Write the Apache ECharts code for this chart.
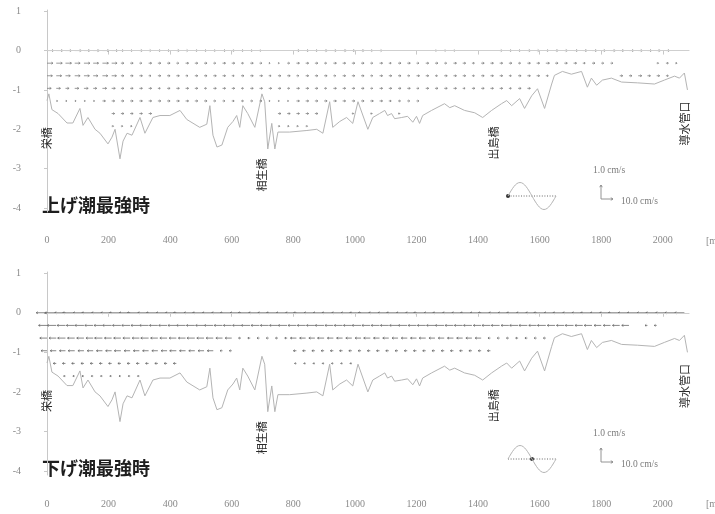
<!DOCTYPE html>
<html>
<head>
<meta charset="utf-8">
<script src="https://cdn.jsdelivr.net/npm/echarts@6/dist/echarts.min.js"></script>
<style>
  html, body { margin: 0; padding: 0; background: #fff; }
  #c { width: 715px; height: 514px; }
</style>
</head>
<body>
<div id="c"></div>
<script>
// River-bed profile along the channel (distance in m, elevation in m)
const profileX = [0,6,16,36,65,84,107,117,133,156,172,198,211,221,237,247,260,276,302,318,344,367,399,432,454,496,519,529,539,552,568,587,604,616,626,636,652,675,698,707,717,730,740,750,788,844,876,896,918,928,951,973,993,1010,1042,1058,1080,1097,1106,1119,1129,1152,1171,1188,1200,1210,1220,1249,1291,1308,1324,1356,1389,1415,1444,1476,1493,1509,1535,1551,1574,1593,1616,1639,1648,1674,1703,1736,1755,1768,1785,1804,1833,1866,1918,1973,2005,2038,2054,2070,2080];
const profileZ = [-1.27,-1.1,-1.5,-1.6,-1.84,-1.84,-1.47,-1.9,-1.7,-2.0,-2.1,-2.37,-2.2,-2.0,-2.75,-2.3,-2.1,-2.15,-1.7,-2.1,-1.7,-1.65,-1.65,-1.52,-1.75,-1.95,-1.87,-1.4,-2.15,-2.45,-2.4,-1.95,-1.8,-1.65,-1.95,-1.4,-1.6,-1.95,-1.1,-1.3,-2.5,-1.85,-2.5,-2.07,-2.07,-2.03,-2.0,-2.1,-1.3,-1.95,-1.8,-1.7,-1.85,-1.3,-2.0,-1.7,-1.6,-1.52,-1.65,-1.6,-1.73,-1.7,-1.67,-1.82,-1.67,-1.85,-1.65,-1.52,-1.35,-1.45,-1.4,-1.52,-1.58,-1.7,-1.52,-1.35,-1.27,-1.4,-1.22,-1.47,-1.15,-0.97,-1.47,-0.85,-0.63,-0.53,-0.6,-0.53,-0.93,-0.7,-0.88,-0.75,-0.7,-0.8,-0.82,-0.85,-0.75,-0.65,-0.7,-0.57,-1.0];
const surfaceZ = 0;

// Velocity grid: stations (m) and depths (m)
const colX = [0,30,60,90,120,150,180,210,240,270,300,330,360,390,420,450,480,510,540,570,600,630,660,690,720,750,780,810,840,870,900,930,960,990,1020,1050,1080,1110,1140,1170,1200,1230,1260,1290,1320,1350,1380,1410,1440,1470,1500,1530,1560,1590,1620,1650,1680,1710,1740,1770,1800,1830,1860,1890,1920,1950,1980,2010,2040,2070];
const rowZ = [0,-0.32,-0.64,-0.96,-1.28,-1.6,-1.92];

// Flood-tide maximum: along-channel velocity (cm/s), one array per depth row
const floodU0 = [5.5,5.5,5,5.5,5,5,5.5,5,2,2, 2.5,2,2,2,2.5,2,2,2,2,2.5, 2,2,2,1.5,0,0,0,2.5,2.5,2, 2.5,2.5,3,2.5,2.5,2,2,0,0,0, 0,0,1.5,1.5,1.5,0,0,0,0,2, 2,2,2.5,2,2,2.5,2.5,3.5,3.5,4, 3.5,4,3.5,4,3.5,3.5,3,3,0,0];
const floodU1 = [5,5,5,4.5,5,4.5,5,4.5,2.5,2.5, 2,2.5,2.5,2.5,2,2.5,2.5,2.5,2,2.5, 2.5,2,2.5,2,1,1,2,2.5,2.5,2.5, 2,2.5,2.5,2.5,2.5,2,2.5,2,2.5,2.5, 2,2.5,2.5,2,2.5,2.5,2,2.5,2.5,2.5, 2.5,2,2.5,2.5,3,2.5,2.5,2.5,2,2.5, 2,2,0,0,0,0,1.5,2,1.5,0];
const floodU2 = [4.5,4.5,4,4.5,4.5,4,4.5,4,2.5,2.5, 2.5,2,2.5,2.5,2.5,2,2.5,2.5,2.5,2.5, 2,2.5,2.5,2.5,2,2.5,2.5,2,2.5,2.5, 2.5,2,2.5,2.5,2.5,2,2.5,2.5,2.5,2, 2.5,2.5,2,2.5,2.5,2.5,2,2.5,2.5,2.5, 2,2.5,2.5,2.5,2,0,0,0,0,0, 0,0,2.5,2.5,3,2.5,2.5,2,0,0];
const floodU3 = [3.5,3.5,3,3.5,3.5,3,3.5,3,2.5,2.5, 2.5,2.5,2,2.5,2.5,2.5,2.5,2,2.5,2.5, 2.5,2,2.5,2.5,2.5,2.5,2,2.5,2.5,2.5, 2,2.5,2.5,2.5,2.5,2,2.5,2.5,2.5,2.5, 2,2.5,2.5,2.5,2.5,2,2.5,2.5,2.5,2.5, 2,2.5,2.5,2.5,0,0,0,0,0,0, 0,0,0,0,0,0,0,0,0,0];
const floodU4 = [1,1,1,1,1,1,2.5,2.5,2.5,2.5, 2.5,2.5,2.5,2.5,2.5,2.5,2.5,2.5,2,2, 2,2,2,2,1,1,1,2.5,2.5,2.5, 2.5,2.5,2.5,2.5,2.5,2.5,2.5,2,2,2, 2,0,0,0,0,0,0,0,0,0, 0,0,0,0,0,0,0,0,0,0, 0,0,0,0,0,0,0,0,0,0];
const floodU5 = [0,0,0,0,0,0,0,2.5,2.5,2.5, 2.5,2.5,2.5,0,0,0,0,0,0,0, 0,0,0,0,0,2.5,2.5,2.5,2.5,2.5, 0,0,0,1.5,1.5,1.5,1.5,1.5,1.5,0, 0,0,0,0,0,0,0,0,0,0, 0,0,0,0,0,0,0,0,0,0, 0,0,0,0,0,0,0,0,0,0];
const floodU6 = [0,0,0,0,0,0,0,1.5,1.5,1.5, 0,0,0,0,0,0,0,0,0,0, 0,0,0,0,0,1.5,1.5,1.5,1.5,0, 0,0,0,0,0,0,0,0,0,0, 0,0,0,0,0,0,0,0,0,0, 0,0,0,0,0,0,0,0,0,0, 0,0,0,0,0,0,0,0,0,0];

// Ebb-tide maximum: along-channel velocity (cm/s), one array per depth row
const ebbU0 = [-9,-9.5,-9,-10,-9,-9.5,-9,-9,-9.5,-9, -10,-9,-9.5,-9,-9,-10,-9,-9.5,-9,-9, -9.5,-9,-10,-9,-9,-9.5,-9,-9,-10,-9, -9,-9.5,-9,-9,-9.5,-10,-9,-9,-9.5,-9, -9,-10,-9,-9.5,-9,-9,-9.5,-9,-10,-9, -9,-9.5,-9,-9,-10,-9,-9.5,-9,-9,-9.5, -9,-9,-9.5,-9,-9,-8.5,-9,-8.5,-8.5,-8];
const ebbU1 = [-7,-7.5,-7,-7,-7.5,-7,-7,-7.5,-7,-7, -7,-7.5,-7,-7,-7,-7.5,-7,-7,-7.5,-7, -7,-7,-7.5,-7,-7,-7,-7.5,-7,-7,-7, -7.5,-7,-7,-7,-7.5,-7,-7,-7,-7,-7.5, -7,-7,-7,-7.5,-7,-7,-7,-6.5,-7,-7, -6.5,-7,-7,-6.5,-7,-6.5,-6.5,-7,-6.5,-6.5, -6,-6,-6,-6,0,-2,-2,0,0,0];
const ebbU2 = [-6,-6,-6.5,-6,-6,-6,-6.5,-6,-6,-6, -6,-6.5,-6,-6,-6,-6,-6.5,-6,-6,-5.5, -5.5,-2,-2,-2,-2,-2,-2,-5,-5,-5, -5.5,-5,-5,-5,-5,-5.5,-5,-5,-5,-5, -5,-5.5,-5,-5,-5,-5,-5,-5,-2,-2, -2,-2,-2,-2,-2,0,0,0,0,0, 0,0,0,0,0,0,0,0,0,0];
const ebbU3 = [-5,-5,-5,-5.5,-5,-5,-5,-5,-5.5,-5, -5,-5,-5,-5,-5.5,-5,-5,-5,-5,-2, -2,0,0,0,0,0,0,-2.5,-2.5,-2.5, -2.5,-2.5,-2.5,-2.5,-2.5,-2.5,-2.5,-2.5,-2.5,-2.5, -2.5,-2.5,-2.5,-2.5,-2.5,-2.5,-2.5,-2.5,-2.5,0, 0,0,0,0,0,0,0,0,0,0, 0,0,0,0,0,0,0,0,0,0];
const ebbU4 = [-2.5,-2.5,-2.5,-2.5,-2.5,-2.5,-2.5,-2.5,-2.5,-2.5, -2.5,-2.5,-2.5,-2.5,-2.5,0,0,0,0,0, 0,0,0,0,0,0,0,-1.5,-1.5,-1.5, -1.5,-1.5,-1.5,-1.5,0,0,0,0,0,0, 0,0,0,0,0,0,0,0,0,0, 0,0,0,0,0,0,0,0,0,0, 0,0,0,0,0,0,0,0,0,0];
const ebbU5 = [0,0,-1.5,-1.5,-1.5,-1.5,-1.5,-1.5,-1.5,-1.5, -1.5,0,0,0,0,0,0,0,0,0, 0,0,0,0,0,0,0,0,0,0, 0,0,0,0,0,0,0,0,0,0, 0,0,0,0,0,0,0,0,0,0, 0,0,0,0,0,0,0,0,0,0, 0,0,0,0,0,0,0,0,0,0];
const ebbU6 = [0,0,0,0,0,0,0,0,0,0, 0,0,0,0,0,0,0,0,0,0, 0,0,0,0,0,0,0,0,0,0, 0,0,0,0,0,0,0,0,0,0, 0,0,0,0,0,0,0,0,0,0, 0,0,0,0,0,0,0,0,0,0, 0,0,0,0,0,0,0,0,0,0];

// Bridge / landmark annotations
const bridgeNames = ['栄橋', '相生橋', '出島橋', '導水管口'];
const bridgeX = [0, 698, 1450, 2070];
const bridgeZ = [-2.23, -3.16, -2.35, -1.85];

const xTicks = [0, 200, 400, 600, 800, 1000, 1200, 1400, 1600, 1800, 2000];
const yTicks = [-4, -3, -2, -1, 0, 1];
const panelTitles = ['上げ潮最強時', '下げ潮最強時'];

// Vector drawing scale
const U_PX = 1.2;   // px per cm/s along channel (10 cm/s reference arrow)
const W_PX = 14;    // px per cm/s vertical (1.0 cm/s reference arrow)

const SERIF = "'Liberation Serif', 'DejaVu Serif', serif";
const CJK = "'Noto Sans CJK JP', 'Noto Sans', sans-serif";

function bedAt(x) {
  if (x <= profileX[0]) return profileZ[0];
  for (let i = 1; i < profileX.length; i++) {
    if (x <= profileX[i]) {
      const t = (x - profileX[i - 1]) / (profileX[i] - profileX[i - 1]);
      return profileZ[i - 1] + t * (profileZ[i] - profileZ[i - 1]);
    }
  }
  return profileZ[profileZ.length - 1];
}

const grids = [
  { left: 47, top: 10, width: 642, height: 202 },
  { left: 47, top: 272, width: 642, height: 203 }
];

function xAxisFor(gi, offset) {
  return {
    gridIndex: gi, type: 'value', min: 0, max: 2085, offset: offset,
    axisLine: { show: true, lineStyle: { color: '#c8c8c8', width: 1 } },
    axisTick: { show: true, length: 4, customValues: xTicks, lineStyle: { color: '#c8c8c8' } },
    axisLabel: { customValues: xTicks, formatter: v => String(v), color: '#8a8a8a',
                 fontFamily: SERIF, fontSize: 10, margin: 7 },
    splitLine: { show: false }
  };
}
function yAxisFor(gi) {
  return {
    gridIndex: gi, type: 'value', min: -4.1, max: 1.03, offset: 20,
    axisLine: { show: true, lineStyle: { color: '#c8c8c8', width: 1 } },
    axisTick: { show: true, length: 3, customValues: yTicks, lineStyle: { color: '#c8c8c8' } },
    axisLabel: { customValues: yTicks, formatter: v => String(v), color: '#8a8a8a',
                 fontFamily: SERIF, fontSize: 10, margin: 6 },
    splitLine: { show: false }
  };
}

function bedSeries(gi) {
  return {
    type: 'line', xAxisIndex: gi, yAxisIndex: gi, silent: true,
    data: profileX.map((x, i) => [x, profileZ[i]]),
    symbol: 'none', lineStyle: { color: '#b4b4b4', width: 1 }, z: 2,
    markLine: {
      silent: true, symbol: 'none', label: { show: false },
      lineStyle: { color: '#cfcfcf', width: 1, type: 'solid' },
      data: [{ yAxis: surfaceZ }]
    }
  };
}

function vectorSeries(gi, rows, color) {
  const data = [];
  rows.forEach((u, r) => u.forEach((v, i) => data.push([colX[i], rowZ[r], v])));
  return {
    type: 'custom', xAxisIndex: gi, yAxisIndex: gi, silent: true, clip: false, z: 3,
    encode: { x: 0, y: 1 }, data: data,
    renderItem: function (params, api) {
      const x = api.value(0), z = api.value(1), u = api.value(2);
      if (!u || z <= bedAt(x) + 0.08) return { type: 'group', children: [] };
      const p = api.coord([x, z]);
      const len = u * U_PX;
      const s = Math.sign(len);
      const tx = p[0] + len;
      const h = Math.min(1.6, Math.abs(len) * 0.5);
      return {
        type: 'group', children: [
          { type: 'line', shape: { x1: p[0], y1: p[1], x2: tx, y2: p[1] }, style: { stroke: color, lineWidth: 0.8 } },
          { type: 'polyline', shape: { points: [[tx - s * h, p[1] - 1], [tx, p[1]], [tx - s * h, p[1] + 1]] },
            style: { stroke: color, lineWidth: 0.8, fill: null } }
        ]
      };
    }
  };
}

function bridgeSeries(gi) {
  return {
    type: 'custom', xAxisIndex: gi, yAxisIndex: gi, silent: true, clip: false, z: 4,
    encode: { x: 0, y: 1 },
    data: bridgeX.map((x, i) => [x, bridgeZ[i]]),
    renderItem: function (params, api) {
      const p = api.coord([api.value(0), api.value(1)]);
      return {
        type: 'text', x: p[0], y: p[1], rotation: Math.PI / 2,
        style: { text: bridgeNames[params.dataIndex], fontFamily: CJK, fontSize: 11,
                 fill: '#2a2a2a', align: 'center', verticalAlign: 'middle' }
      };
    }
  };
}

// One period of the tide curve drawn as four cubic segments (icon only)
function tideCurve(x0, y0, q, a, color) {
  const k1 = 0.326 * q, k2 = 0.638 * q, ha = 0.512 * a;
  const seg = (sx, sign, rising) => rising
    ? { x1: sx, y1: y0, cpx1: sx + k1, cpy1: y0 - sign * ha, cpx2: sx + k2, cpy2: y0 - sign * a, x2: sx + q, y2: y0 - sign * a }
    : { x1: sx, y1: y0 - sign * a, cpx1: sx + q - k2, cpy1: y0 - sign * a, cpx2: sx + q - k1, cpy2: y0 - sign * ha, x2: sx + q, y2: y0 };
  return [seg(x0, 1, true), seg(x0 + q, 1, false), seg(x0 + 2 * q, -1, true), seg(x0 + 3 * q, -1, false)]
    .map(shape => ({ type: 'bezierCurve', shape: shape, style: { stroke: color, lineWidth: 1, fill: null } }));
}

// Title, tide-phase icon and reference arrows for one panel
function panelDecor(dy, phaseX, title) {
  const ax = 601, ay = 199 + dy;
  const uLen = 10 * U_PX, wLen = 1.0 * W_PX;
  return [
    { type: 'text', x: 42, y: 196 + dy,
      style: { text: title, fontFamily: CJK, fontSize: 18, fontWeight: 'bold', fill: '#1e1e1e' } },
    { type: 'text', x: 706, y: 236 + dy,
      style: { text: '[m]', fontFamily: SERIF, fontSize: 10, fill: '#8a8a8a' } },
    { type: 'line', shape: { x1: 508, y1: 196 + dy, x2: 556, y2: 196 + dy },
      style: { stroke: '#666', lineWidth: 1, lineDash: [1, 1.6] } },
    { type: 'circle', shape: { cx: phaseX, cy: 196 + dy, r: 2 }, style: { fill: '#333' } },
    { type: 'line', shape: { x1: ax, y1: ay, x2: ax, y2: ay - wLen }, style: { stroke: '#888', lineWidth: 0.9 } },
    { type: 'polyline', shape: { points: [[ax - 1.3, ay - wLen + 2.2], [ax, ay - wLen], [ax + 1.3, ay - wLen + 2.2]] },
      style: { stroke: '#888', lineWidth: 0.9, fill: null } },
    { type: 'line', shape: { x1: ax, y1: ay, x2: ax + uLen, y2: ay }, style: { stroke: '#888', lineWidth: 0.9 } },
    { type: 'polyline', shape: { points: [[ax + uLen - 2.2, ay - 1.3], [ax + uLen, ay], [ax + uLen - 2.2, ay + 1.3]] },
      style: { stroke: '#888', lineWidth: 0.9, fill: null } },
    { type: 'text', x: 593, y: 170 + dy,
      style: { text: '1.0 cm/s', fontFamily: SERIF, fontSize: 9.5, fill: '#7a7a7a', verticalAlign: 'middle' } },
    { type: 'text', x: 621, y: 201 + dy,
      style: { text: '10.0 cm/s', fontFamily: SERIF, fontSize: 9.5, fill: '#7a7a7a', verticalAlign: 'middle' } }
  ].concat(tideCurve(508, 196 + dy, 12, 13.5, '#b5b5b5'));
}

const chart = echarts.init(document.getElementById('c'), null, { renderer: 'canvas' });
chart.setOption({
  backgroundColor: '#ffffff',
  animation: false,
  grid: grids,
  xAxis: [xAxisFor(0, 16), xAxisFor(1, 17)],
  yAxis: [yAxisFor(0), yAxisFor(1)],
  series: [
    bedSeries(0),
    vectorSeries(0, [floodU0, floodU1, floodU2, floodU3, floodU4, floodU5, floodU6], '#808080'),
    bridgeSeries(0),
    bedSeries(1),
    vectorSeries(1, [ebbU0, ebbU1, ebbU2, ebbU3, ebbU4, ebbU5, ebbU6], '#686868'),
    bridgeSeries(1)
  ],
  graphic: panelDecor(0, 508, panelTitles[0]).concat(panelDecor(263, 532, panelTitles[1]))
});
</script>
</body>
</html>
